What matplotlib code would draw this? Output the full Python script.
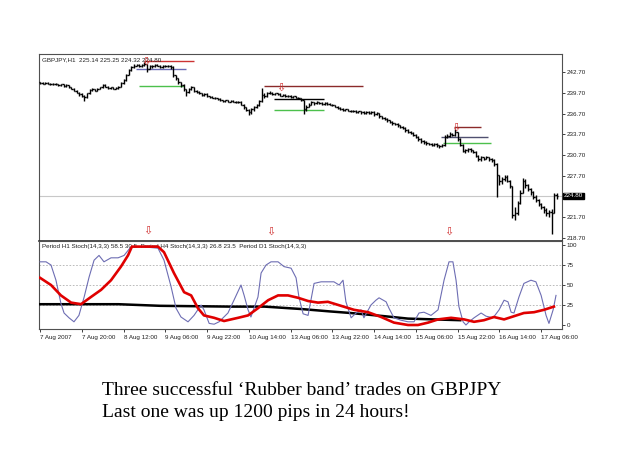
import matplotlib
matplotlib.use('Agg')
import matplotlib.pyplot as plt
import matplotlib.transforms as mtransforms
import numpy as np

# GBPJPY H1 bars, 7 Aug 2007 - 17 Aug 2007
first_open = 241.2
closes = [
    241.1, 241.0, 241.1, 241.0, 241.0, 240.9, 241.0, 240.8, 240.9, 240.7,
    240.8, 240.5, 240.3, 240.0, 239.7, 239.5, 239.2, 239.1, 239.6, 240.1,
    240.2, 240.0, 240.3, 240.5, 240.8, 240.6, 240.4, 240.5, 240.3, 240.4,
    240.6, 241.1, 241.5, 242.3, 243.0, 243.4, 243.6, 243.7, 243.5, 243.7,
    243.9, 243.2, 243.6, 243.5, 243.7, 243.6, 243.4, 243.6, 243.5, 243.6,
    243.4, 242.2, 241.8, 241.2, 240.8, 240.2, 239.8, 240.2, 240.5, 240.0,
    239.8, 239.6, 239.4, 239.5, 239.2, 239.1, 239.0, 238.9, 238.8, 238.6,
    238.5, 238.6, 238.4, 238.5, 238.4, 238.3, 238.4, 238.0, 237.6, 237.2,
    236.9, 237.3, 237.6, 237.9, 238.5, 239.4, 239.2, 239.6, 239.7, 239.5,
    239.6, 239.5, 239.3, 239.4, 239.2, 239.3, 239.1, 239.2, 239.0, 238.9,
    238.6, 237.3, 237.7, 238.0, 238.3, 238.2, 238.3, 238.2, 238.1, 238.2,
    238.1, 238.0, 237.9, 237.7, 237.5, 237.4, 237.2, 237.3, 237.1, 237.0,
    237.1, 236.9, 237.0, 236.9, 236.8, 236.9, 236.8, 236.9, 236.6, 236.8,
    236.3, 236.1, 235.9, 235.7, 235.5, 235.3, 235.2, 235.0, 234.8, 234.6,
    234.3, 234.1, 233.9, 233.6, 233.3, 233.0, 232.8, 232.6, 232.4, 232.3,
    232.2, 232.3, 232.1, 232.0, 232.1, 233.3, 233.5, 233.8, 233.6, 234.0,
    233.0, 232.2, 231.3, 231.4, 231.6, 231.4, 231.2, 230.6, 230.1, 230.4,
    230.2, 230.4, 230.1, 230.0, 229.4, 227.8, 226.9, 227.2, 227.5, 227.0,
    226.2, 222.0, 222.3, 223.8, 225.3, 227.0, 226.4, 225.8, 225.4, 224.7,
    224.2, 223.6, 223.2, 222.8, 222.3, 222.5, 222.4, 225.0, 224.8,
]
highs = [
    241.3, 241.2, 241.2, 241.2, 241.1, 241.1, 241.1, 241.0, 241.0, 241.0,
    240.9, 240.8, 240.6, 240.4, 240.1, 239.8, 239.6, 239.4, 239.7, 240.2,
    240.4, 240.3, 240.4, 240.6, 240.9, 240.9, 240.7, 240.6, 240.6, 240.5,
    240.7, 241.3, 241.7, 242.4, 243.2, 243.6, 243.8, 243.9, 243.8, 243.8,
    244.1, 243.9, 243.7, 243.7, 243.8, 243.8, 243.7, 243.7, 243.7, 243.7,
    243.7, 243.5, 242.3, 241.9, 241.3, 240.9, 240.3, 240.4, 240.7, 240.6,
    240.1, 239.9, 239.7, 239.6, 239.6, 239.3, 239.2, 239.1, 239.0, 238.9,
    238.7, 238.7, 238.7, 238.6, 238.6, 238.5, 238.5, 238.5, 238.1, 237.7,
    237.3, 237.5, 237.8, 238.1, 238.7, 240.4, 239.6, 239.8, 239.9, 239.8,
    239.7, 239.7, 239.6, 239.5, 239.5, 239.4, 239.4, 239.3, 239.3, 239.1,
    239.0, 238.7, 237.9, 238.2, 238.5, 238.4, 238.5, 238.4, 238.3, 238.3,
    238.3, 238.2, 238.1, 238.0, 237.8, 237.6, 237.5, 237.4, 237.4, 237.2,
    237.2, 237.2, 237.1, 237.1, 237.0, 237.0, 237.0, 237.0, 237.0, 236.9,
    236.8, 236.4, 236.2, 236.0, 235.8, 235.6, 235.4, 235.3, 235.1, 234.9,
    234.7, 234.4, 234.2, 234.0, 233.7, 233.4, 233.1, 232.9, 232.7, 232.5,
    232.4, 232.4, 232.4, 232.2, 232.3, 233.6, 233.8, 234.0, 233.9, 234.5,
    234.1, 233.1, 232.3, 231.6, 231.8, 231.7, 231.5, 231.3, 230.7, 230.6,
    230.5, 230.6, 230.5, 230.3, 230.1, 229.5, 227.9, 227.5, 227.8, 227.9,
    227.1, 226.3, 223.2, 224.1, 225.6, 227.4, 227.2, 226.6, 226.0, 225.5,
    224.9, 224.3, 223.8, 223.4, 223.0, 222.8, 222.9, 225.2, 225.25,
]
lows = [
    241.0, 240.9, 240.9, 240.9, 240.8, 240.8, 240.8, 240.7, 240.7, 240.6,
    240.6, 240.4, 240.2, 239.9, 239.6, 239.3, 239.1, 238.5, 239.0, 239.5,
    240.0, 239.9, 239.9, 240.2, 240.4, 240.5, 240.3, 240.3, 240.2, 240.2,
    240.3, 240.5, 241.0, 241.4, 242.2, 242.9, 243.3, 243.5, 243.4, 243.4,
    243.6, 242.7, 243.1, 243.3, 243.4, 243.5, 243.3, 243.3, 243.4, 243.4,
    243.2, 242.0, 241.6, 241.0, 240.6, 240.0, 239.3, 239.6, 240.1, 239.8,
    239.6, 239.5, 239.3, 239.3, 239.1, 239.0, 238.9, 238.8, 238.7, 238.5,
    238.4, 238.4, 238.3, 238.3, 238.3, 238.2, 238.2, 237.9, 237.4, 237.0,
    236.5, 236.7, 237.1, 237.5, 237.8, 238.4, 239.0, 239.1, 239.5, 239.4,
    239.4, 239.4, 239.2, 239.2, 239.1, 239.1, 239.0, 239.0, 238.9, 238.8,
    238.5, 236.7, 237.1, 237.6, 237.9, 238.0, 238.1, 238.1, 238.0, 238.0,
    238.0, 237.9, 237.8, 237.6, 237.4, 237.2, 237.1, 237.1, 237.0, 236.9,
    236.9, 236.8, 236.8, 236.7, 236.6, 236.7, 236.6, 236.7, 236.4, 236.5,
    236.1, 235.9, 235.7, 235.5, 235.3, 235.1, 235.0, 234.8, 234.6, 234.4,
    234.1, 233.9, 233.7, 233.4, 233.1, 232.8, 232.5, 232.3, 232.2, 232.1,
    232.0, 232.0, 231.9, 231.8, 231.9, 232.0, 233.1, 233.3, 233.4, 233.5,
    232.8, 232.0, 231.1, 231.0, 231.2, 231.2, 231.0, 230.4, 229.9, 229.9,
    230.0, 230.1, 229.9, 229.7, 229.1, 224.7, 226.4, 226.5, 226.9, 226.8,
    225.9, 221.6, 221.4, 222.0, 223.6, 225.2, 226.0, 225.5, 225.0, 224.4,
    223.9, 223.3, 222.9, 222.3, 221.9, 221.8, 219.3, 222.3, 224.32,
]
last_price = 224.80

price_ticks = [218.70, 221.70, 227.70, 230.70, 233.70, 236.70, 239.70, 242.70]
date_bars = [0, 16, 32, 48, 64, 80, 96, 112, 128, 144, 160, 176, 192]
date_labels = ['7 Aug 2007', '7 Aug 20:00', '8 Aug 12:00', '9 Aug 06:00',
               '9 Aug 22:00', '10 Aug 14:00', '13 Aug 06:00', '13 Aug 22:00',
               '14 Aug 14:00', '15 Aug 06:00', '15 Aug 22:00', '16 Aug 14:00',
               '17 Aug 06:00']

# trade levels: entry (red), stop (middle), target (green)
entry_price = [244.3, 240.7, 234.8]
entry_from = [39.8, 85.8, 158.6]
entry_to = [59.0, 123.8, 169.0]
entry_color = ['#cc3333', '#8b2a2a', '#8b2a2a']
stop_price = [243.1, 238.8, 233.3]
stop_from = [36.8, 89.7, 153.6]
stop_to = [55.9, 108.8, 171.6]
stop_color = ['#6b6bb5', '#000000', '#505070']
target_price = [240.7, 237.2, 232.5]
target_from = [37.9, 89.7, 154.4]
target_to = [55.2, 108.8, 172.8]

arrow_top_bars = [40.6, 92.3, 159.4]
arrow_top_price = [244.15, 240.4, 234.6]
arrow_low_bars = [41.4, 88.5, 156.7]
arrow_low_price = [219.8, 219.7, 219.6]

# stochastics, traced points (bar index, value)
h1_bars = [0, 2.3, 4.2, 6.1, 8.0, 9.2, 11.1, 13.0, 14.9, 16.9, 18.8, 20.7, 22.6,
           24.5, 27.2, 29.9, 32.2, 34.9, 38.7, 45.2, 47.5, 50.2, 52.1, 54.0,
           56.7, 59.0, 61.7, 62.8, 64.8, 66.7, 68.6, 72.0, 74.3, 77.0, 78.2,
           79.7, 80.8, 83.5, 84.7, 86.6, 88.5, 91.2, 93.5, 96.2, 98.1, 99.2,
           100.8, 102.7, 105.0, 107.7, 110.3, 112.6, 114.6, 116.1, 117.2, 119.2,
           121.1, 123.0, 124.1, 126.8, 128.7, 129.9, 132.6, 133.7, 135.6, 138.3,
           141.0, 143.3, 145.2, 147.1, 149.8, 152.5, 154.8, 156.7, 158.2, 159.4,
           160.5, 162.1, 163.2, 164.4, 166.3, 169.0, 170.9, 173.6, 175.9, 177.8,
           179.3, 180.5, 181.6, 183.5, 185.4, 188.1, 190.0, 192.0, 193.9, 195.0,
           196.6, 197.7]
h1_vals = [79, 79, 75, 56, 27, 15, 9, 4, 12, 35, 60, 81, 87,
           79, 84, 84, 87, 98, 98, 96, 81, 48, 21, 10,
           4, 12, 25, 19, 2, 1, 4, 15, 31, 50, 37,
           19, 10, 35, 65, 75, 79, 79, 73, 71, 59, 35,
           14, 12, 52, 54, 54, 54, 50, 56, 29, 9,
           15, 19, 9, 25, 31, 34, 29, 21, 9, 6,
           4, 4, 15, 16, 12, 19, 56, 79, 79, 56,
           23, 4, 0, 4, 9, 15, 11, 9, 19, 31,
           29, 16, 15, 35, 52, 56, 54, 37, 12, 2,
           19, 37]
h4_bars = [0, 4.2, 8.0, 11.9, 15.7, 19.5, 23.4, 27.2, 31.0, 33.7, 35.2, 45.2,
           47.5, 51.3, 55.2, 57.9, 60.5, 62.8, 66.7, 70.5, 75.9, 79.7, 83.5,
           87.4, 91.2, 95.0, 98.9, 102.7, 106.5, 110.3, 115.3, 120.3, 125.7,
           130.7, 135.6, 141.0, 144.8, 148.7, 152.5, 157.5, 162.5, 166.3, 170.1,
           173.9, 177.8, 181.6, 185.4, 189.3, 193.1, 196.9]
h4_vals = [59, 50, 37, 28, 26, 35, 44, 56, 73, 87, 98, 98,
           91, 65, 41, 37, 21, 12, 9, 5, 9, 12, 21,
           31, 37, 37, 34, 30, 28, 29, 24, 19, 16,
           10, 3, 0, 0, 3, 7, 9, 7, 4, 6,
           10, 7, 11, 15, 16, 19, 23]
d1_bars = [0, 30, 38, 46, 73, 86, 100, 111, 119, 132, 141, 151, 161]
d1_vals = [26, 26, 25, 24, 23, 23, 20, 17, 15, 11, 8, 7, 6]

mt_font = 'Liberation Sans'
mt_size = 4.5

fig = plt.figure(figsize=(6.25, 4.69), dpi=100)
fig.patch.set_facecolor('white')
ax = fig.add_axes([0.0624, 0.4861, 0.8368, 0.3988])
ax2 = fig.add_axes([0.0624, 0.2985, 0.8368, 0.1876], sharex=ax)

x = np.arange(len(closes))
opens = [first_open] + closes[:-1]

# price panel
ax.axhline(last_price, color='#c8c8c8', lw=0.8, zorder=1)
ax.vlines(x, lows, highs, color='black', lw=1.0, zorder=3)
ax.hlines(opens, x - 0.5, x, color='black', lw=1.0, zorder=3)
ax.hlines(closes, x, x + 0.5, color='black', lw=1.0, zorder=3)

ax.hlines(entry_price, entry_from, entry_to, colors=entry_color, lw=1.0, zorder=2)
ax.hlines(stop_price, stop_from, stop_to, colors=stop_color, lw=1.0, zorder=2)
ax.hlines(target_price, target_from, target_to, colors='#4cc04c', lw=1.0, zorder=2)

for bx, py in zip(arrow_top_bars + arrow_low_bars, arrow_top_price + arrow_low_price):
    ax.text(bx, py, '\u21e9', color='#d03030', fontsize=8, family='DejaVu Sans',
            ha='center', va='center', zorder=4)

ax.set_xlim(-0.4, 200.0)
ax.set_ylim(218.3, 245.3)
ax.yaxis.tick_right()
ax.set_yticks(price_ticks)
ax.set_yticklabels(['%.2f' % p for p in price_ticks])
ax.tick_params(axis='y', length=2, width=0.6, pad=1.5, labelsize=mt_size,
               colors='#202020')
ax.tick_params(axis='x', length=0, labelbottom=False)
for lab in ax.get_yticklabels():
    lab.set_family(mt_font)

trans = mtransforms.blended_transform_factory(ax.transAxes, ax.transData)
ax.text(1.004, last_price, '%.2f' % last_price, transform=trans, color='white',
        fontsize=mt_size, family=mt_font, ha='left', va='center',
        bbox=dict(boxstyle='square,pad=0.15', fc='black', ec='black'))
ax.text(0.005, 0.985, 'GBPJPY,H1  225.14 225.25 224.32 224.80', transform=ax.transAxes,
        fontsize=mt_size, family=mt_font, ha='left', va='top', color='#202020')

# stochastic panel
for lvl in [25, 50, 75]:
    ax2.axhline(lvl, color='#b0b0b0', lw=0.6, ls=(0, (2, 2)), zorder=1)
ax2.plot(d1_bars, d1_vals, color='black', lw=1.8, zorder=3)
ax2.plot(h1_bars, h1_vals, color='#6d6db3', lw=0.8, zorder=4)
ax2.plot(h4_bars, h4_vals, color='#e00000', lw=1.9, zorder=5)
ax2.set_ylim(-5, 105)
ax2.yaxis.tick_right()
ax2.set_yticks([0, 25, 50, 75, 100])
ax2.tick_params(axis='y', length=2, width=0.6, pad=1.5, labelsize=mt_size,
                colors='#202020')
ax2.set_xticks(date_bars)
ax2.set_xticklabels(date_labels, ha='left')
ax2.tick_params(axis='x', length=2, width=0.6, pad=2.5, labelsize=mt_size,
                colors='#202020')
for lab in ax2.get_xticklabels() + ax2.get_yticklabels():
    lab.set_family(mt_font)
ax2.text(0.005, 0.965,
         'Period H1 Stoch(14,3,3) 58.5 30.5  Period H4 Stoch(14,3,3) 26.8 23.5  '
         'Period D1 Stoch(14,3,3)',
         transform=ax2.transAxes, fontsize=mt_size, family=mt_font, ha='left',
         va='top', color='#202020', zorder=2)

for a in (ax, ax2):
    for s in a.spines.values():
        s.set_color('#505050')
        s.set_linewidth(0.8)
ax.spines['bottom'].set_color('#303030')
ax.spines['bottom'].set_linewidth(1.2)

fig.text(0.163, 0.158, 'Three successful \u2018Rubber band\u2019 trades on GBPJPY',
         family='Liberation Serif', fontsize=14, ha='left', va='baseline')
fig.text(0.163, 0.111, 'Last one was up 1200 pips in 24 hours!',
         family='Liberation Serif', fontsize=14, ha='left', va='baseline')

fig.savefig('out.png', dpi=100)
